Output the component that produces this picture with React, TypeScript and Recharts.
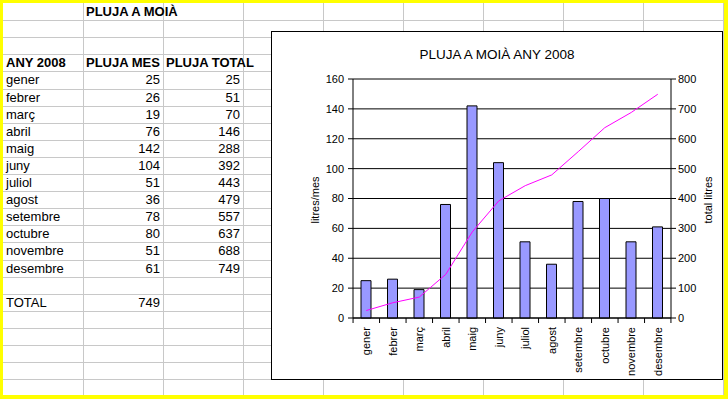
import React from "react";
import {
  ComposedChart,
  Bar,
  Line,
  XAxis,
  YAxis,
  CartesianGrid,
  ReferenceLine,
} from "recharts";

const months = [
  "gener",
  "febrer",
  "març",
  "abril",
  "maig",
  "juny",
  "juliol",
  "agost",
  "setembre",
  "octubre",
  "novembre",
  "desembre",
];
const monthlyRain = [25, 26, 19, 76, 142, 104, 51, 36, 78, 80, 51, 61];
const totalRain = [25, 51, 70, 146, 288, 392, 443, 479, 557, 637, 688, 749];
const leftTicks = [0, 20, 40, 60, 80, 100, 120, 140, 160];
const rightTicks = [0, 100, 200, 300, 400, 500, 600, 700, 800];

const data = months.map((month, i) => ({
  month,
  mes: monthlyRain[i],
  total: totalRain[i],
}));

const FONT = '"Liberation Sans", Arial, sans-serif';
const ROW_H = 17.1;
const COL_W = 80;
const SHEET_X = 3;
const SHEET_Y = 3;
const HALF_BAND = 13.2;

type CellProps = {
  row: number;
  col: number;
  text: string | number;
  bold?: boolean;
  right?: boolean;
};

const Cell = ({ row, col, text, bold, right }: CellProps) => (
  <div
    style={{
      position: "absolute",
      left: SHEET_X + COL_W * col,
      top: SHEET_Y + ROW_H * row,
      width: COL_W,
      height: ROW_H,
      lineHeight: `${ROW_H}px`,
      fontSize: 13,
      fontWeight: bold ? "bold" : "normal",
      textAlign: right ? "right" : "left",
      padding: right ? "0 3px 0 0" : "0 0 0 3px",
      boxSizing: "border-box",
      whiteSpace: "nowrap",
      overflow: "visible",
      color: "#000",
    }}
  >
    {text}
  </div>
);

const MonthTick = (props: any) => {
  const { x, y, payload, index } = props;
  return (
    <g transform={`translate(${x},${y})`}>
      <line x1={-HALF_BAND} x2={-HALF_BAND} y1={-5} y2={0} stroke="#000" />
      {index === months.length - 1 && (
        <line x1={HALF_BAND} x2={HALF_BAND} y1={-5} y2={0} stroke="#000" />
      )}
      <text
        transform="rotate(-90)"
        x={-4}
        y={4}
        textAnchor="end"
        fontSize={11}
        fill="#000"
        fontFamily={FONT}
      >
        {payload.value}
      </text>
    </g>
  );
};

const AxisTitle = ({ cx, cy, text }: { cx: number; cy: number; text: string }) => (
  <div
    style={{
      position: "absolute",
      left: cx - 50,
      top: cy - 7,
      width: 100,
      height: 14,
      lineHeight: "14px",
      fontSize: 11,
      textAlign: "center",
      transform: "rotate(-90deg)",
      color: "#000",
    }}
  >
    {text}
  </div>
);

const App = () => {
  const hLines = Array.from({ length: 22 }, (_, i) => SHEET_Y + ROW_H * (i + 1));
  const vLines = Array.from({ length: 9 }, (_, j) => SHEET_X + COL_W * (j + 1));

  return (
    <div
      style={{
        position: "fixed",
        left: 0,
        top: 0,
        width: 728,
        height: 399,
        background: "#FFFF00",
        overflow: "hidden",
        fontFamily: FONT,
      }}
    >
      <div
        style={{
          position: "absolute",
          left: SHEET_X,
          top: SHEET_Y,
          width: 721,
          height: 392,
          background: "#fff",
        }}
      />
      {hLines.map((y) => (
        <div
          key={"h" + y}
          style={{ position: "absolute", left: SHEET_X, top: Math.round(y), width: 721, height: 1, background: "#c8c8c8" }}
        />
      ))}
      {vLines.map((x) => (
        <div
          key={"v" + x}
          style={{ position: "absolute", left: x, top: SHEET_Y, width: 1, height: 392, background: "#c8c8c8" }}
        />
      ))}

      <Cell row={0} col={1} text="PLUJA A MOIÀ" bold />
      <Cell row={3} col={0} text="ANY 2008" bold />
      <Cell row={3} col={1} text="PLUJA MES" bold />
      <Cell row={3} col={2} text="PLUJA TOTAL" bold />
      {months.map((m, i) => (
        <React.Fragment key={m}>
          <Cell row={4 + i} col={0} text={m} />
          <Cell row={4 + i} col={1} text={monthlyRain[i]} right />
          <Cell row={4 + i} col={2} text={totalRain[i]} right />
        </React.Fragment>
      ))}
      <Cell row={17} col={0} text="TOTAL" />
      <Cell row={17} col={1} text={totalRain[totalRain.length - 1]} right />

      <div
        style={{
          position: "absolute",
          left: 271,
          top: 31,
          width: 450,
          height: 347,
          border: "1px solid #000",
          background: "#fff",
        }}
      >
        <div
          style={{
            position: "absolute",
            top: 15,
            left: 0,
            width: "100%",
            textAlign: "center",
            fontSize: 13.5,
            color: "#000",
          }}
        >
          PLUJA A MOIÀ ANY 2008
        </div>
        <ComposedChart
          width={450}
          height={347}
          data={data}
          margin={{ top: 47, right: 0, bottom: 0, left: 0 }}
          barSize={10}
          style={{ fontFamily: FONT }}
        >
          <CartesianGrid vertical={false} stroke="#000" yAxisId="left" />
          <XAxis
            dataKey="month"
            height={61}
            interval={0}
            stroke="#000"
            tickLine={false}
            tickSize={5}
            tickMargin={0}
            tick={<MonthTick />}
          />
          <YAxis
            yAxisId="left"
            orientation="left"
            width={81}
            domain={[0, 160]}
            ticks={leftTicks}
            stroke="#000"
            tickSize={5}
            tickMargin={4}
            tick={{ fill: "#000", fontSize: 11 }}
          />
          <YAxis
            yAxisId="right"
            orientation="right"
            width={51}
            domain={[0, 800]}
            ticks={rightTicks}
            stroke="#000"
            tickSize={5}
            tickMargin={2}
            tick={{ fill: "#000", fontSize: 11 }}
          />
          <ReferenceLine yAxisId="left" y={160} stroke="#808080" />
          <Bar
            yAxisId="left"
            dataKey="mes"
            fill="#9999FF"
            stroke="#000"
            strokeWidth={1}
            isAnimationActive={false}
          />
          <Line
            yAxisId="right"
            dataKey="total"
            stroke="#FF00FF"
            strokeWidth={1}
            dot={false}
            type="linear"
            isAnimationActive={false}
          />
        </ComposedChart>
      </div>
      <AxisTitle cx={315} cy={200} text="litres/mes" />
      <AxisTitle cx={708} cy={200} text="total litres" />
    </div>
  );
};

export default App;
